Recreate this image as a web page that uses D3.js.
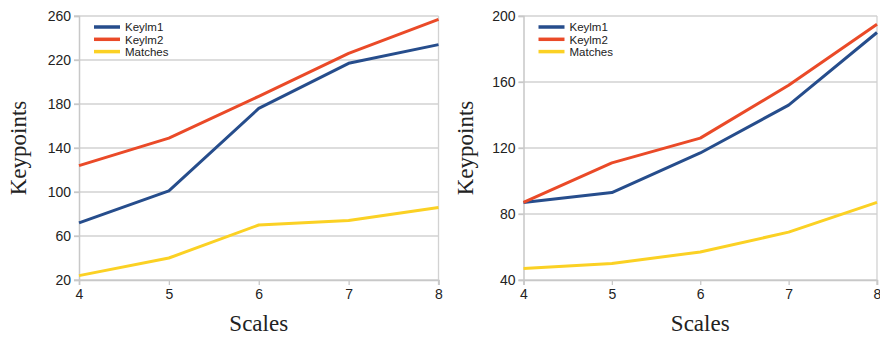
<!DOCTYPE html>
<html><head><meta charset="utf-8">
<script src="https://cdn.jsdelivr.net/npm/d3@7"></script>
<style>
body{margin:0;background:#fff;}
svg{display:block;}
.tick text{font-family:"Liberation Sans",Arial,sans-serif;font-size:14px;fill:#222;}
</style></head>
<body>
<svg id="chart" width="880" height="337"></svg>
<script>
const scales = [4, 5, 6, 7, 8];
const seriesNames = ["Keylm1", "Keylm2", "Matches"];
const seriesColors = ["#264d8c", "#ea4a28", "#fbd124"];
// Left chart
const leftKeyIm1 = [72, 101, 176, 217, 234];
const leftKeyIm2 = [124, 149, 187, 226, 257];
const leftMatches = [24, 40, 70, 74, 86];
const leftTicks = [20, 60, 100, 140, 180, 220, 260];
// Right chart
const rightKeyIm1 = [87, 93, 117, 146, 190];
const rightKeyIm2 = [87, 111, 126, 158, 195];
const rightMatches = [47, 50, 57, 69, 87];
const rightTicks = [40, 80, 120, 160, 200];

const svg = d3.select("#chart");

function drawPanel(opts) {
  const {x0, x1, y0, y1, ticks, data, titleX} = opts;
  const g = svg.append("g");
  const x = d3.scaleLinear().domain([4, 8]).range([x0, x1]);
  const y = d3.scaleLinear().domain([ticks[0], ticks[ticks.length - 1]]).range([y1, y0]);

  // grid
  g.append("g").selectAll("line").data(ticks).join("line")
    .attr("x1", x0 - 5).attr("x2", x1).attr("y1", d => y(d)).attr("y2", d => y(d))
    .attr("stroke", "#d2d2d2").attr("stroke-width", 1.3);
  // right border
  g.append("line").attr("x1", x1).attr("x2", x1).attr("y1", y0).attr("y2", y1 + 5)
    .attr("stroke", "#d2d2d2").attr("stroke-width", 1.3);

  // y axis
  const ya = g.append("g").attr("transform", `translate(${x0},0)`)
    .call(d3.axisLeft(y).tickValues(ticks).tickSize(5).tickPadding(3));
  ya.select(".domain").attr("stroke", "#c8c8c8").attr("stroke-width", 1.5);
  ya.selectAll(".tick line").attr("stroke", "#c8c8c8").attr("stroke-width", 1.3);

  // x axis
  const xa = g.append("g").attr("transform", `translate(0,${y1})`)
    .call(d3.axisBottom(x).tickValues(scales).tickFormat(d3.format("d")).tickSize(5).tickPadding(4));
  xa.select(".domain").attr("stroke", "#c8c8c8").attr("stroke-width", 1.5);
  xa.selectAll(".tick line").attr("stroke", "#c8c8c8").attr("stroke-width", 1.3);

  // lines
  const line = d3.line().x((d, i) => x(scales[i])).y(d => y(d));
  data.forEach((vals, k) => {
    g.append("path").datum(vals).attr("d", line)
      .attr("fill", "none").attr("stroke", seriesColors[k]).attr("stroke-width", 3)
      .attr("stroke-linejoin", "round");
  });

  // legend
  const lg = g.append("g").attr("transform", `translate(${x0 + 15},${y0 + 11})`);
  seriesNames.forEach((n, k) => {
    lg.append("line").attr("x1", 0).attr("x2", 26).attr("y1", k * 12.3).attr("y2", k * 12.3)
      .attr("stroke", seriesColors[k]).attr("stroke-width", 3.5);
    lg.append("text").attr("x", 31).attr("y", k * 12.3 + 4.2).text(n)
      .attr("font-family", "Liberation Sans, Arial, sans-serif").attr("font-size", 11.5).attr("fill", "#222");
  });

  // axis titles
  g.append("text").attr("transform", `translate(${titleX},${(y0 + y1) / 2}) rotate(-90)`)
    .attr("text-anchor", "middle").attr("dy", "0.35em")
    .attr("font-family", "Liberation Serif, DejaVu Serif, serif").attr("font-size", 23).attr("fill", "#222")
    .text("Keypoints");
  g.append("text").attr("x", (x0 + x1) / 2).attr("y", 331)
    .attr("text-anchor", "middle")
    .attr("font-family", "Liberation Serif, DejaVu Serif, serif").attr("font-size", 23).attr("fill", "#222")
    .text("Scales");
}

drawPanel({x0: 79, x1: 438.5, y0: 16, y1: 280, ticks: leftTicks,
  data: [leftKeyIm1, leftKeyIm2, leftMatches], titleX: 18});
drawPanel({x0: 523.5, x1: 877, y0: 16, y1: 280, ticks: rightTicks,
  data: [rightKeyIm1, rightKeyIm2, rightMatches], titleX: 465});
</script>
</body></html>
